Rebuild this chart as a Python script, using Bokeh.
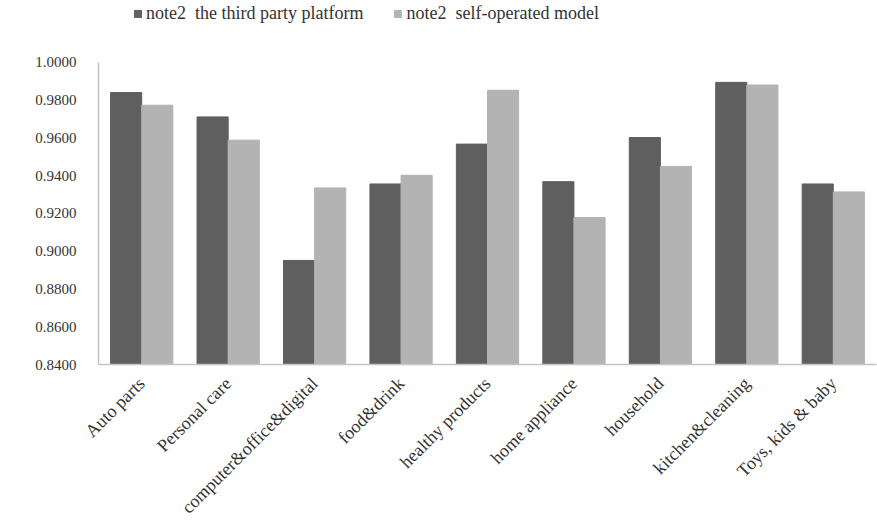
from bokeh.plotting import figure
from bokeh.models import (ColumnDataSource, FactorRange, Range1d, FixedTicker,
                          NumeralTickFormatter, Legend, LegendItem)
from bokeh.transform import dodge
from bokeh.embed import file_html
from bokeh.resources import INLINE
import math

# Category labels along the x axis
categories = ["Auto parts", "Personal care", "computer&office&digital", "food&drink",
              "healthy products", "home appliance", "household", "kitchen&cleaning",
              "Toys, kids & baby"]

# Series values
third_party = [0.9840, 0.9711, 0.8951, 0.9356, 0.9567, 0.9368, 0.9602, 0.9894, 0.9356]
self_operated = [0.9773, 0.9588, 0.9335, 0.9402, 0.9852, 0.9178, 0.9449, 0.9880, 0.9314]

series_names = ["note2  the third party platform", "note2  self-operated model"]

# Y axis tick values
y_ticks = [0.84, 0.86, 0.88, 0.90, 0.92, 0.94, 0.96, 0.98, 1.00]

DARK = "#5f5f5f"
LIGHT = "#b3b3b3"
TEXT = "#333333"
AXIS = "#c4c4c4"
FONT = "Liberation Serif"

# The frame runs from the canvas top to the x axis; the value axis itself only
# spans 0.84..1.00 (303 px), leaving headroom at the top for the legend.
Y_MIN, Y_MAX = y_ticks[0], y_ticks[-1]
AXIS_PX, FRAME_PX = 303, 365
y_top = Y_MIN + (Y_MAX - Y_MIN) * FRAME_PX / AXIS_PX

source = ColumnDataSource(dict(cat=categories, a=third_party, b=self_operated))

p = figure(width=877, height=527, output_backend="svg", toolbar_location=None,
           x_range=FactorRange(*categories, range_padding=0),
           y_range=Range1d(Y_MIN, y_top),
           min_border_left=98, min_border_right=1, min_border_top=0,
           min_border_bottom=162)

r1 = p.vbar(x=dodge("cat", -0.18, range=p.x_range), top="a", bottom=Y_MIN, width=0.36,
            source=source, fill_color=DARK, line_color=DARK)
r2 = p.vbar(x=dodge("cat", 0.18, range=p.x_range), top="b", bottom=Y_MIN, width=0.36,
            source=source, fill_color=LIGHT, line_color=LIGHT)

p.outline_line_color = None
p.xgrid.grid_line_color = None
p.ygrid.grid_line_color = None

# Y axis
p.yaxis.ticker = FixedTicker(ticks=y_ticks)
p.yaxis.bounds = (Y_MIN, Y_MAX)
p.yaxis.formatter = NumeralTickFormatter(format="0.0000")
p.yaxis.major_tick_line_color = None
p.yaxis.minor_tick_line_color = None
p.yaxis.major_tick_out = 0
p.yaxis.major_label_standoff = 22
p.yaxis.axis_line_color = AXIS
p.yaxis.axis_line_width = 1.5
p.yaxis.major_label_text_font = FONT
p.yaxis.major_label_text_font_size = "15px"
p.yaxis.major_label_text_color = TEXT

# X axis
p.xaxis.major_tick_line_color = None
p.xaxis.minor_tick_line_color = None
p.xaxis.major_tick_out = 0
p.xaxis.major_label_standoff = 16
p.xaxis.axis_line_color = AXIS
p.xaxis.axis_line_width = 1.5
p.xaxis.major_label_orientation = math.pi / 4
p.xaxis.major_label_text_font = FONT
p.xaxis.major_label_text_font_size = "18px"
p.xaxis.major_label_text_color = TEXT

legend = Legend(items=[LegendItem(label=series_names[0], renderers=[r1]),
                       LegendItem(label=series_names[1], renderers=[r2])],
                orientation="horizontal", location=(35, 340),
                padding=0, margin=0, spacing=30, label_standoff=4,
                glyph_width=9, glyph_height=9,
                border_line_color=None, background_fill_alpha=0,
                label_text_font="Times New Roman", label_text_font_size="18px",
                label_text_color=TEXT)
p.add_layout(legend, "center")

open("out.html", "w").write(file_html(p, INLINE))
